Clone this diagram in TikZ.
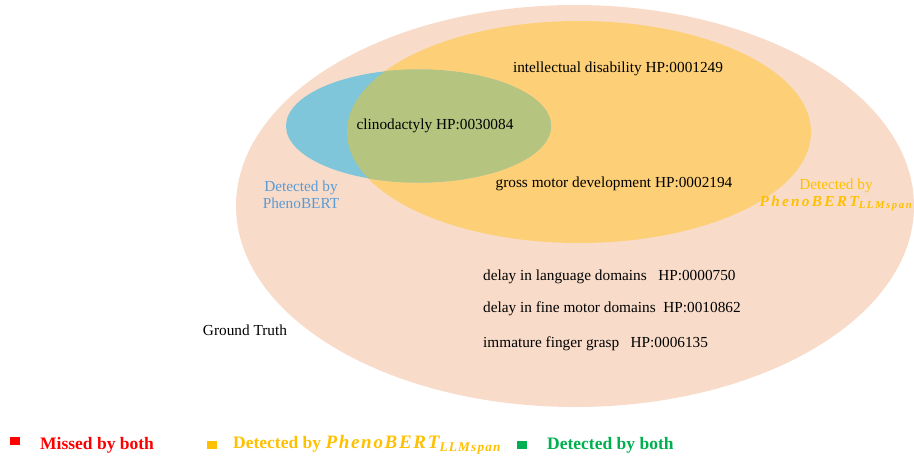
\documentclass[tikz,border=0pt]{standalone}
\usepackage{fontspec}
\setmainfont{Liberation Serif}
\newfontfamily\spacedit[LetterSpace=15]{Liberation Serif}
\newfontfamily\spaceditb[LetterSpace=9]{Liberation Serif}
\definecolor{peach}{HTML}{F8DCC9}
\definecolor{yel}{HTML}{FDCF77}
\definecolor{blu}{HTML}{7FC6DA}
\definecolor{grn}{HTML}{B5C47F}
\definecolor{bluetxt}{HTML}{5B9BD5}
\definecolor{yeltxt}{HTML}{FFC000}
\definecolor{legred}{HTML}{FF0000}
\definecolor{leggreen}{HTML}{00B050}
\newcommand{\pbllm}{{\spacedit\bfseries\itshape PhenoBERT}\textsubscript{\spacedit\bfseries\itshape LLMspan}}
\newcommand{\pbllmb}{{\spaceditb\bfseries\itshape PhenoBERT}\textsubscript{\spaceditb\bfseries\itshape LLMspan}}
\begin{document}
\begin{tikzpicture}[x=1pt,y=-1pt,
  lbl/.style={inner sep=0pt,font=\fontsize{15.3}{17}\selectfont,text=black},
  leg/.style={inner sep=0pt,font=\fontsize{17.5}{19}\selectfont\bfseries,anchor=west},
  sq/.style={minimum width=10pt,minimum height=8pt,inner sep=0pt}]
\useasboundingbox (0,0) rectangle (914,459);
% ellipses
\fill[peach] (575,206) ellipse [x radius=339, y radius=201];
\fill[yel] (579,132) ellipse [x radius=232, y radius=111];
\fill[blu] (418.5,126) ellipse [x radius=132.5, y radius=56.5];
\begin{scope}
  \clip (579,132) ellipse [x radius=232, y radius=111];
  \fill[grn] (418.5,126) ellipse [x radius=132.5, y radius=56.5];
\end{scope}
% labels
\node[lbl] (id) at (618,69) {intellectual disability HP:0001249};
\node[lbl] (cl) at (435,126) {clinodactyly HP:0030084};
\node[lbl] (gm) at (614,184) {gross motor development HP:0002194};
\node[lbl,text=bluetxt,align=center] (pb) at (301,195) {Detected by\\PhenoBERT};
\node[lbl,text=yeltxt,align=center] (pl) at (836,195) {Detected by\\\pbllm};
\node[lbl,anchor=west] (d1) at (483,277) {delay in language domains\ \ \ HP:0000750};
\node[lbl,anchor=west] (d2) at (483,309) {delay in fine motor domains\ \ HP:0010862};
\node[lbl,anchor=west] (d3) at (483,344) {immature finger grasp\ \ \ HP:0006135};
\node[lbl] (gt) at (245,330) {Ground Truth};
% legend
\node[sq,fill=legred] (s1) at (15,441) {};
\node[leg,text=legred] (t1) at (40,445) {Missed by both};
\node[sq,fill=yeltxt] (s2) at (212,445) {};
\node[leg,text=yeltxt] (t2) at (233,445) {Detected by {\fontsize{19}{21}\selectfont\pbllmb}};
\node[sq,fill=leggreen] (s3) at (522,445) {};
\node[leg,text=leggreen] (t3) at (547,445) {Detected by both};
\end{tikzpicture}
\end{document}
